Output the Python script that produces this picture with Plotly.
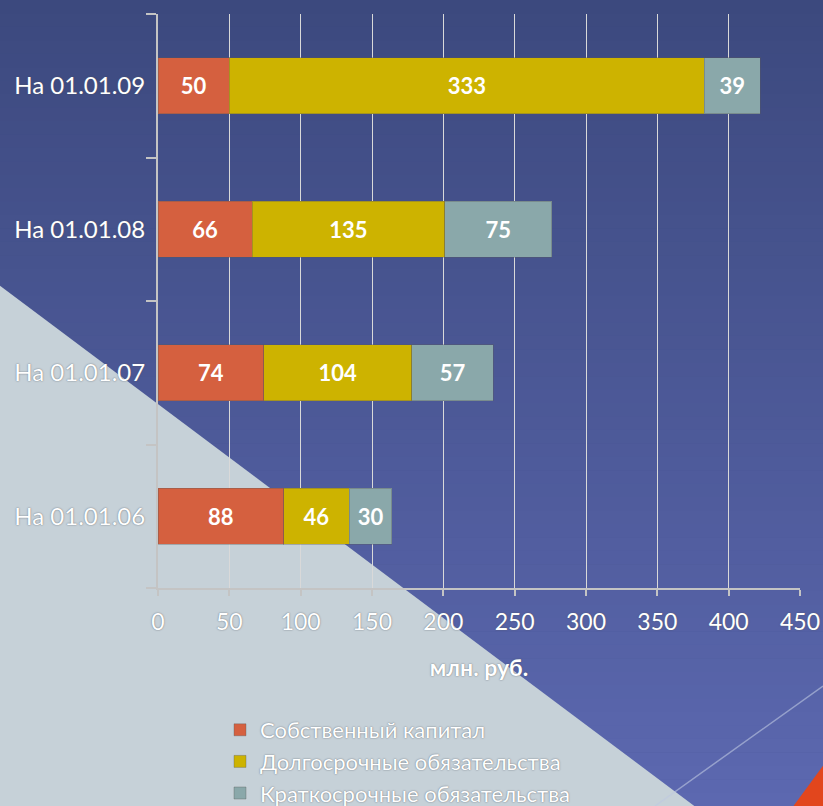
import plotly.graph_objects as go

# Data
dates = ["На 01.01.06", "На 01.01.07", "На 01.01.08", "На 01.01.09"]
equity = [88, 74, 66, 50]
long_term = [46, 104, 135, 333]
short_term = [30, 57, 75, 39]
series_names = ["Собственный капитал", "Долгосрочные обязательства", "Краткосрочные обязательства"]
series_colors = ["#d5603f", "#cdb300", "#8aa8aa"]
x_ticks = [0, 50, 100, 150, 200, 250, 300, 350, 400, 450]

W, H = 823, 806
PL, PR, PT, PB = 158, 800, 14, 588  # plot area in pixels

FONT = "Lato"
SHADOW = "0px 0px 1.5px rgba(80,85,95,0.95)"


def px2paper(x, y):
    return (x - PL) / (PR - PL), (PB - y) / (PB - PT)


fig = go.Figure()
for name, vals, col in zip(series_names, [equity, long_term, short_term], series_colors):
    fig.add_trace(go.Bar(
        y=dates, x=vals, name=name, orientation="h",
        marker=dict(color=col, line=dict(color="rgba(90,90,90,0.35)", width=1)),
        texttemplate="%{x}", textposition="inside", insidetextanchor="middle",
        textangle=0, constraintext="none",
        insidetextfont=dict(family=FONT, size=22, color="white", weight="bold"),
        hoverinfo="x+name",
    ))

shapes = []
# vertical blue gradient background
n = 60
top = (60, 73, 126)
bot = (92, 104, 176)
for i in range(n):
    y0 = H * i / n
    y1 = H * (i + 1) / n
    t = (i + 0.5) / n
    c = tuple(int(round(a + (b - a) * t)) for a, b in zip(top, bot))
    x0p, y0p = px2paper(-1, y0)
    x1p, y1p = px2paper(W + 1, y1 + 0.5)
    shapes.append(dict(type="rect", xref="paper", yref="paper", x0=x0p, x1=x1p, y0=y0p, y1=y1p,
                       fillcolor="rgb(%d,%d,%d)" % c, line=dict(width=0), layer="below"))


def path_from(points):
    pts = [px2paper(x, y) for x, y in points]
    return "M " + " L ".join("%.5f,%.5f" % p for p in pts) + " Z"


# light grey triangle at lower left
shapes.append(dict(type="path", xref="paper", yref="paper",
                   path=path_from([(-1, 285), (697, H + 2), (-1, H + 2)]),
                   fillcolor="#c6d1d8", line=dict(width=0), layer="below"))
# thin diagonal line at lower right
a = px2paper(655, H)
b = px2paper(W, 686)
shapes.append(dict(type="line", xref="paper", yref="paper", x0=a[0], y0=a[1], x1=b[0], y1=b[1],
                   line=dict(color="rgba(190,200,225,0.6)", width=1.5), layer="below"))
# red corner triangle
shapes.append(dict(type="path", xref="paper", yref="paper",
                   path=path_from([(792, H + 2), (W + 2, 763), (W + 2, H + 2)]),
                   fillcolor="#e2461d", line=dict(width=0), layer="below"))

lx, ly = px2paper(220, 709)

fig.update_layout(
    width=W, height=H,
    margin=dict(l=PL, r=W - PR, t=PT, b=H - PB, pad=0, autoexpand=False),
    barmode="stack", bargap=0.61,
    paper_bgcolor="#3c4a80", plot_bgcolor="rgba(0,0,0,0)",
    shapes=shapes,
    font=dict(family=FONT, color="white", size=22),
    showlegend=True,
    legend=dict(
        orientation="v", traceorder="normal", x=lx, y=ly, xanchor="left", yanchor="top",
        bgcolor="rgba(0,0,0,0)", borderwidth=0, tracegroupgap=0, itemwidth=30,
        font=dict(family=FONT, size=22, color="white", shadow=SHADOW),
    ),
    xaxis=dict(
        range=[0, 450], tickvals=x_ticks, ticktext=[str(v) for v in x_ticks],
        showgrid=True, gridcolor="#d9d9d9", gridwidth=1, zeroline=False,
        showline=True, linecolor="#c4c4c4", linewidth=2,
        ticks="outside", ticklen=6, tickcolor="#c4c4c4", tickwidth=1.5,
        ticklabelstandoff=6,
        tickfont=dict(family=FONT, size=23, color="white", shadow=SHADOW),
        title=dict(text="млн. руб.", standoff=26,
                   font=dict(family=FONT, size=23, color="white", weight="bold", shadow=SHADOW)),
        fixedrange=True,
    ),
    yaxis=dict(
        categoryorder="array", categoryarray=dates,
        showgrid=False, zeroline=False,
        showline=True, linecolor="#c4c4c4", linewidth=2,
        ticks="outside", tickson="boundaries", ticklen=10, tickcolor="#c4c4c4", tickwidth=2,
        tickfont=dict(family=FONT, size=24, color="white", shadow=SHADOW),
        ticklabelstandoff=6,
        fixedrange=True,
    ),
)

fig.write_html("out.html")
